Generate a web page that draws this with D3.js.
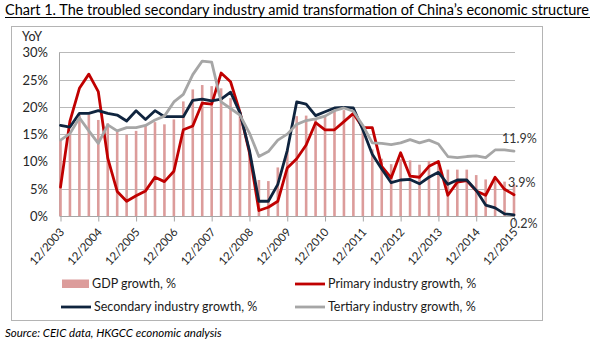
<!DOCTYPE html>
<html>
<head>
<meta charset="utf-8">
<script src="https://cdn.jsdelivr.net/npm/d3@7"></script>
<style>
  body { margin: 0; background: #fff; }
  svg { display: block; }
  text { font-family: Lato, "Open Sans", sans-serif; }
</style>
</head>
<body>
<svg id="chart" width="600" height="341"></svg>
<script>
// Quarterly YoY growth, Q4 2003 – Q4 2015
const quarters = [
  "2003Q4",
  "2004Q1","2004Q2","2004Q3","2004Q4",
  "2005Q1","2005Q2","2005Q3","2005Q4",
  "2006Q1","2006Q2","2006Q3","2006Q4",
  "2007Q1","2007Q2","2007Q3","2007Q4",
  "2008Q1","2008Q2","2008Q3","2008Q4",
  "2009Q1","2009Q2","2009Q3","2009Q4",
  "2010Q1","2010Q2","2010Q3","2010Q4",
  "2011Q1","2011Q2","2011Q3","2011Q4",
  "2012Q1","2012Q2","2012Q3","2012Q4",
  "2013Q1","2013Q2","2013Q3","2013Q4",
  "2014Q1","2014Q2","2014Q3","2014Q4",
  "2015Q1","2015Q2","2015Q3","2015Q4"
];

const gdpGrowth = [
  14.0,
  15.0, 18.5, 18.6, 17.6,
  17.0, 15.5, 14.9, 15.6,
  16.6, 17.2, 16.8, 17.7,
  21.0, 23.2, 24.0, 23.8,
  23.4, 21.6, 19.1, 12.0,
  6.6, 6.4, 8.9, 12.3,
  18.3, 18.4, 17.9, 18.2,
  19.4, 19.4, 18.8, 16.3,
  12.2, 10.5, 9.5, 10.4,
  10.2, 9.4, 10.1, 10.0,
  8.5, 8.5, 8.5, 7.5,
  6.7, 6.9, 6.3, 5.8
];

const primaryGrowth = [
  5.3,
  17.4, 23.4, 26.0, 22.8,
  10.6, 4.5, 2.7, 3.7,
  4.6, 7.1, 6.3, 8.2,
  15.8, 16.5, 20.7, 20.5,
  26.2, 24.6, 19.0, 11.6,
  1.0, 1.6, 2.7, 8.8,
  10.5, 13.0, 17.1, 15.8,
  15.8, 17.3, 18.8, 16.2,
  16.2, 9.1, 7.0, 11.6,
  7.3, 7.1, 9.1, 10.0,
  3.8, 6.2, 6.5, 4.6,
  3.8, 7.1, 4.9, 3.9
];

const secondaryGrowth = [
  16.6,
  16.3, 18.8, 18.8, 19.3,
  18.8, 18.5, 17.4, 19.3,
  17.7, 19.3, 18.2, 18.2,
  18.2, 21.2, 21.4, 21.1,
  21.4, 22.7, 18.9, 12.0,
  2.7, 2.7, 5.8, 12.0,
  20.9, 20.5, 18.4, 19.1,
  19.8, 19.9, 19.8, 15.8,
  11.3, 8.6, 6.1, 6.6,
  6.7, 5.9, 7.1, 8.0,
  5.8, 6.6, 6.6, 4.7,
  2.0, 1.5, 0.4, 0.2
];

const tertiaryGrowth = [
  13.9,
  15.1, 18.0, 15.6, 13.3,
  16.7, 15.6, 16.2, 16.2,
  16.6, 17.6, 18.3, 20.9,
  22.3, 25.9, 28.4, 28.2,
  20.9, 19.7, 18.5, 15.2,
  10.9, 11.8, 13.9, 15.0,
  16.8, 17.5, 17.8, 18.3,
  19.3, 19.8, 19.2, 16.6,
  13.4, 13.3, 13.1, 13.4,
  14.0, 13.4, 13.9, 13.2,
  10.9, 10.7, 10.9, 11.0,
  10.7, 12.1, 12.1, 11.9
];

const yearTickLabels = [
  "12/2003","12/2004","12/2005","12/2006","12/2007","12/2008","12/2009",
  "12/2010","12/2011","12/2012","12/2013","12/2014","12/2015"
];
const yTicks = [0, 5, 10, 15, 20, 25, 30];

const series = [
  { name: "Primary industry growth, %",   values: primaryGrowth,   color: "#C00000" },
  { name: "Secondary industry growth, %", values: secondaryGrowth, color: "#0F243E" },
  { name: "Tertiary industry growth, %",  values: tertiaryGrowth,  color: "#A6A6A6" }
];

const svg = d3.select("#chart");

// Title
svg.append("text")
  .attr("x", 5).attr("y", 15)
  .attr("font-size", 14.5)
  .attr("fill", "#000")
  .attr("textLength", 584)
  .attr("lengthAdjust", "spacingAndGlyphs")
  .text("Chart 1. The troubled secondary industry amid transformation of China\u2019s economic structure");
svg.append("line")
  .attr("x1", 5).attr("x2", 590).attr("y1", 17.5).attr("y2", 17.5)
  .attr("stroke", "#000").attr("stroke-width", 1);

// Chart frame
svg.append("rect")
  .attr("x", 11.5).attr("y", 26.5).attr("width", 531).attr("height", 294)
  .attr("fill", "none").attr("stroke", "#B4B4B4").attr("stroke-width", 1);

const x = d3.scalePoint().domain(quarters).range([60.5, 514]);
const y = d3.scaleLinear().domain([0, 30]).range([216, 52.3]);
const plotLeft = 59.5, plotRight = 515;

// Horizontal gridlines
svg.append("g")
  .selectAll("line")
  .data(yTicks.filter(d => d > 0))
  .join("line")
  .attr("x1", plotLeft).attr("x2", plotRight)
  .attr("y1", d => Math.round(y(d)) + 0.5).attr("y2", d => Math.round(y(d)) + 0.5)
  .attr("stroke", "#B9B9B9").attr("stroke-width", 1);

// Y axis labels
const yAxis = d3.axisLeft(y).tickValues(yTicks).tickFormat(d => d + "%").tickSize(0).tickPadding(0);
const gy = svg.append("g").attr("transform", `translate(48,0)`).call(yAxis);
gy.select(".domain").remove();
gy.selectAll("text")
  .attr("font-family", "Lato, 'Open Sans', sans-serif")
  .attr("font-size", 13).attr("fill", "#262626").attr("dy", "0.35em");

svg.append("text")
  .attr("x", 22).attr("y", 41)
  .attr("font-size", 12.5).attr("fill", "#262626")
  .text("YoY");

// Y axis line
svg.append("line")
  .attr("x1", plotLeft).attr("x2", plotLeft).attr("y1", y(30)).attr("y2", y(0))
  .attr("stroke", "#A6A6A6");

// GDP bars
const barW = 2.6;
svg.append("g")
  .selectAll("rect")
  .data(gdpGrowth)
  .join("rect")
  .attr("x", (d, i) => x(quarters[i]) - barW / 2)
  .attr("width", barW)
  .attr("y", d => y(d))
  .attr("height", d => y(0) - y(d))
  .attr("fill", "#DC9C9B");

// X axis with yearly ticks
const yearQuarters = quarters.filter((q, i) => i % 4 === 0);
const xAxis = d3.axisBottom(x).tickValues(yearQuarters).tickSize(5).tickFormat((q, i) => yearTickLabels[i]);
const gx = svg.append("g").attr("transform", `translate(0,${Math.round(y(0)) + 0.5})`).call(xAxis);
gx.select(".domain").attr("stroke", "#A6A6A6").attr("d", `M${plotLeft},0H${plotRight}`);
gx.selectAll(".tick line").attr("stroke", "#A6A6A6");
gx.selectAll(".tick text")
  .attr("font-family", "Lato, 'Open Sans', sans-serif")
  .attr("font-size", 11.5).attr("fill", "#262626")
  .attr("text-anchor", "end")
  .attr("dy", 0).attr("y", 0)
  .attr("transform", "translate(4,16) rotate(-48)");

// Growth lines
const line = d3.line().x((d, i) => x(quarters[i])).y(d => y(d));
svg.append("g")
  .selectAll("path")
  .data(series)
  .join("path")
  .attr("d", s => line(s.values))
  .attr("fill", "none")
  .attr("stroke", s => s.color)
  .attr("stroke-width", 2.8)
  .attr("stroke-linejoin", "round")
  .attr("stroke-linecap", "round");

// End-of-series value labels
const last = quarters.length - 1;
const endLabels = [
  { values: tertiaryGrowth,  dx: -12, dy: -8 },
  { values: primaryGrowth,   dx: -6,  dy: -8 },
  { values: secondaryGrowth, dx: -4,  dy: 13 }
];
svg.append("g")
  .selectAll("text")
  .data(endLabels)
  .join("text")
  .attr("x", d => x(quarters[last]) + d.dx)
  .attr("y", d => y(d.values[last]) + d.dy)
  .attr("font-size", 12.5).attr("fill", "#333")
  .text(d => d.values[last].toFixed(1) + "%");

// Legend
const legendItems = [
  { name: "GDP growth, %", color: "#DC9C9B", type: "bar", x: 62, y: 284 },
  { name: series[0].name, color: series[0].color, type: "line", x: 295, y: 284 },
  { name: series[1].name, color: series[1].color, type: "line", x: 61, y: 307 },
  { name: series[2].name, color: series[2].color, type: "line", x: 295, y: 307 }
];
const lg = svg.append("g").selectAll("g").data(legendItems).join("g")
  .attr("transform", d => `translate(${d.x},${d.y})`);
lg.filter(d => d.type === "bar").append("rect")
  .attr("x", 0).attr("y", -4.5).attr("width", 27).attr("height", 8.5).attr("fill", d => d.color);
lg.filter(d => d.type === "line").append("line")
  .attr("x1", 0).attr("x2", 30).attr("y1", 0).attr("y2", 0)
  .attr("stroke", d => d.color).attr("stroke-width", 2.8);
lg.append("text")
  .attr("x", d => d.type === "bar" ? 30 : 33)
  .attr("y", 4)
  .attr("font-size", 12.5).attr("fill", "#1a1a1a")
  .text(d => d.name);

// Source note
svg.append("text")
  .attr("x", 5).attr("y", 337)
  .attr("font-size", 11.5).attr("font-style", "italic").attr("fill", "#000")
  .text("Source: CEIC data, HKGCC economic analysis");
</script>
</body>
</html>
